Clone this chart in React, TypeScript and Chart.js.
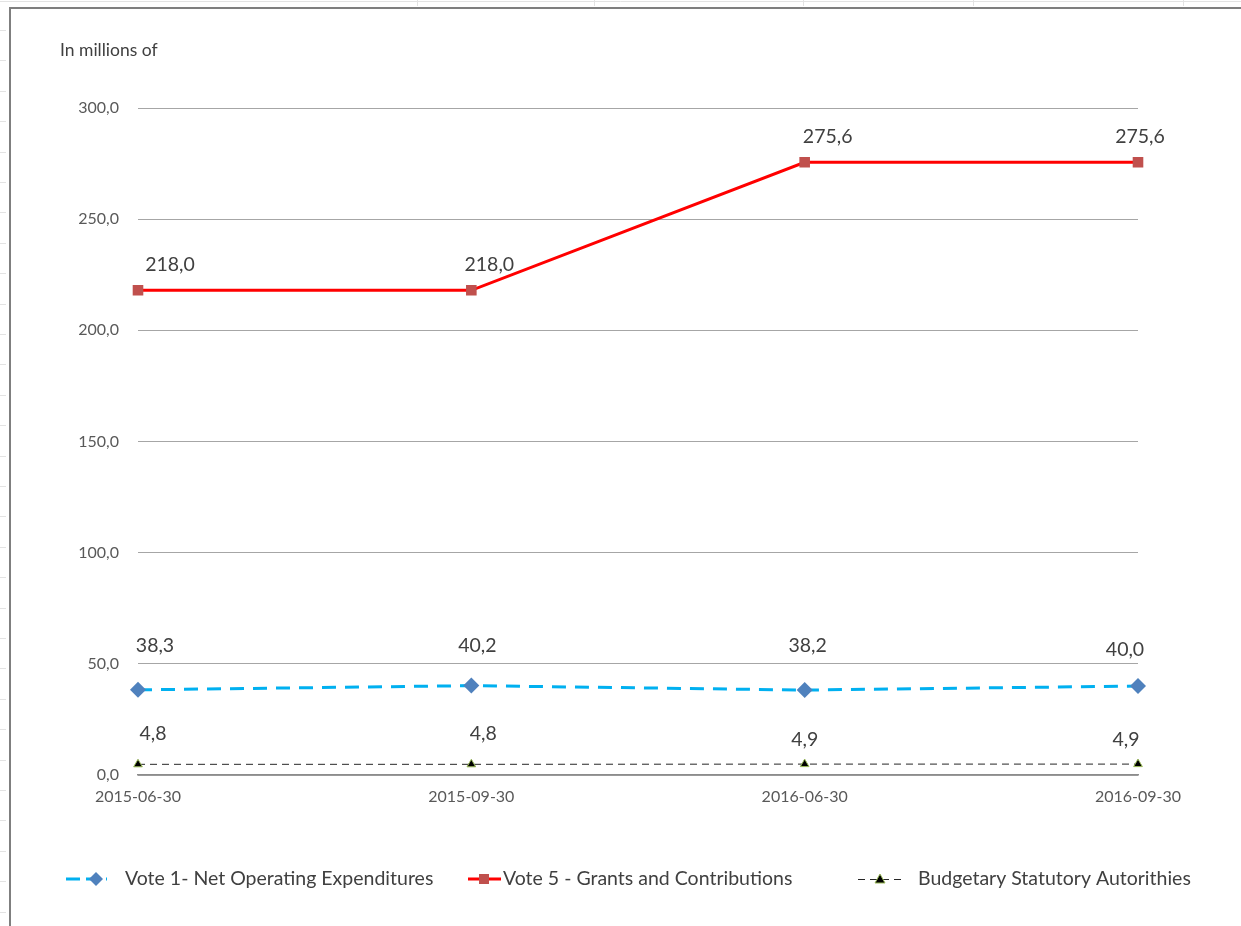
import React, { useEffect, useRef } from "react";
import { Chart, registerables } from "chart.js";

Chart.register(...registerables);

const categories = ["2015-06-30", "2015-09-30", "2016-06-30", "2016-09-30"];
const vote1Values = [38.3, 40.2, 38.2, 40.0];
const vote5Values = [218.0, 218.0, 275.6, 275.6];
const statutoryValues = [4.8, 4.8, 4.9, 4.9];
const seriesNames = [
  "Vote 1- Net Operating Expenditures",
  "Vote 5 - Grants and Contributions",
  "Budgetary Statutory Autorithies",
];
const yTitle = "In millions of";

// label nudges (dx, dy) per series per point — styling only
const labelNudges = [
  [[17, -44], [6, -40], [3, -44], [-13, -36]],
  [[32, -26], [18, -26], [23, -26], [2, -26]],
  [[15, -31], [12, -31], [0, -24], [-12, -24]],
];

const FONT = "Lato, 'Open Sans', sans-serif";
const fmt = (v: number) => v.toFixed(1).replace(".", ",");

const decorPlugin = {
  id: "decor",
  beforeDraw(chart: any) {
    const ctx = chart.ctx;
    ctx.save();
    ctx.fillStyle = "#ffffff";
    ctx.fillRect(0, 0, chart.width, chart.height);
    // spreadsheet hints
    ctx.strokeStyle = "#e3e3e3";
    ctx.lineWidth = 1;
    ctx.beginPath();
    ctx.moveTo(0, 1.5);
    ctx.lineTo(chart.width, 1.5);
    [417, 594, 803, 973, 1183].forEach((x) => {
      ctx.moveTo(x + 0.5, 0);
      ctx.lineTo(x + 0.5, 6);
    });
    for (let y = 30; y < chart.height; y += 30.4) {
      ctx.moveTo(0, Math.round(y) + 0.5);
      ctx.lineTo(6, Math.round(y) + 0.5);
    }
    ctx.stroke();
    // frame
    ctx.strokeStyle = "#7f7f7f";
    ctx.lineWidth = 2;
    ctx.beginPath();
    ctx.moveTo(10, chart.height);
    ctx.lineTo(10, 8);
    ctx.lineTo(chart.width, 8);
    ctx.stroke();
    // y title
    ctx.fillStyle = "#404040";
    ctx.font = `17.5px ${FONT}`;
    ctx.textBaseline = "middle";
    ctx.textAlign = "left";
    ctx.fillText(yTitle, 60, 50);
    ctx.restore();
  },
  afterDatasetsDraw(chart: any) {
    const ctx = chart.ctx;
    ctx.save();
    ctx.fillStyle = "#404040";
    ctx.font = `19.5px ${FONT}`;
    ctx.textAlign = "center";
    ctx.textBaseline = "middle";
    chart.data.datasets.forEach((ds: any, di: number) => {
      const meta = chart.getDatasetMeta(di);
      meta.data.forEach((pt: any, i: number) => {
        const [dx, dy] = labelNudges[di][i];
        ctx.fillText(fmt(ds.data[i]), pt.x + dx, pt.y + dy);
      });
    });
    ctx.restore();
  },
  afterDraw(chart: any) {
    const ctx = chart.ctx;
    const y = 879;
    ctx.save();
    ctx.font = `19.5px ${FONT}`;
    ctx.fillStyle = "#404040";
    ctx.textBaseline = "middle";
    ctx.textAlign = "left";
    const dss = chart.data.datasets;
    // item 1
    ctx.strokeStyle = dss[0].borderColor;
    ctx.lineWidth = 3;
    ctx.setLineDash([14, 6]);
    ctx.beginPath();
    ctx.moveTo(66, y);
    ctx.lineTo(107, y);
    ctx.stroke();
    ctx.setLineDash([]);
    ctx.fillStyle = dss[0].pointBackgroundColor;
    ctx.beginPath();
    ctx.moveTo(96, y - 7);
    ctx.lineTo(103, y);
    ctx.lineTo(96, y + 7);
    ctx.lineTo(89, y);
    ctx.closePath();
    ctx.fill();
    ctx.fillStyle = "#404040";
    ctx.fillText(seriesNames[0], 125, y);
    // item 2
    ctx.strokeStyle = dss[1].borderColor;
    ctx.lineWidth = 3;
    ctx.beginPath();
    ctx.moveTo(468, y);
    ctx.lineTo(501, y);
    ctx.stroke();
    ctx.fillStyle = dss[1].pointBackgroundColor;
    ctx.fillRect(479, y - 5, 10, 10);
    ctx.fillStyle = "#404040";
    ctx.fillText(seriesNames[1], 503, y);
    // item 3
    ctx.strokeStyle = "#262626";
    ctx.lineWidth = 1;
    ctx.setLineDash([7, 5]);
    ctx.beginPath();
    ctx.moveTo(858, y + 0.5);
    ctx.lineTo(906, y + 0.5);
    ctx.stroke();
    ctx.setLineDash([]);
    ctx.fillStyle = "#000000";
    ctx.strokeStyle = "#9BBB59";
    ctx.beginPath();
    ctx.moveTo(880, y - 5);
    ctx.lineTo(885, y + 4);
    ctx.lineTo(875, y + 4);
    ctx.closePath();
    ctx.fill();
    ctx.stroke();
    ctx.fillStyle = "#404040";
    ctx.fillText(seriesNames[2], 918, y);
    ctx.restore();
  },
};

export default function App() {
  const ref = useRef<HTMLCanvasElement>(null);
  useEffect(() => {
    if (!ref.current) return;
    const chart = new Chart(ref.current, {
      type: "line",
      data: {
        labels: categories,
        datasets: [
          {
            label: seriesNames[0],
            data: vote1Values,
            borderColor: "#00B0F0",
            borderWidth: 3,
            borderDash: [14, 9],
            pointStyle: "rectRot",
            pointRadius: 8,
            pointBackgroundColor: "#4F81BD",
            pointBorderColor: "#4F81BD",
            pointBorderWidth: 0,
            tension: 0,
          },
          {
            label: seriesNames[1],
            data: vote5Values,
            borderColor: "#FF0000",
            borderWidth: 3,
            pointStyle: "rect",
            pointRadius: 7.5,
            pointBackgroundColor: "#C0504D",
            pointBorderColor: "#C0504D",
            pointBorderWidth: 0,
            tension: 0,
          },
          {
            label: seriesNames[2],
            data: statutoryValues,
            borderColor: "#262626",
            borderWidth: 1,
            borderDash: [7, 5],
            pointStyle: "triangle",
            pointRadius: 5,
            pointBackgroundColor: "#000000",
            pointBorderColor: "#9BBB59",
            pointBorderWidth: 1,
            tension: 0,
          },
        ],
      },
      options: {
        responsive: false,
        animation: false,
        layout: { padding: { left: 0, top: 108, right: 103, bottom: 111 } },
        plugins: {
          legend: { display: false },
          tooltip: { enabled: false },
          title: { display: false },
        },
        scales: {
          x: {
            type: "category",
            offset: false,
            afterFit: (s: any) => {
              s.height = 40;
            },
            grid: { display: false, drawTicks: false },
            border: { display: true, color: "#8c8c8c", width: 1.5 },
            ticks: {
              color: "#595959",
              font: { family: FONT, size: 16 },
              padding: 12,
              maxRotation: 0,
              autoSkip: false,
            },
          },
          y: {
            min: 0,
            max: 300,
            afterFit: (s: any) => {
              s.width = 138;
            },
            grid: { color: "#a6a6a6", drawTicks: false, lineWidth: 1 },
            border: { display: false },
            ticks: {
              stepSize: 50,
              color: "#595959",
              font: { family: FONT, size: 16 },
              padding: 19,
              callback: (v: any) => fmt(Number(v)),
            },
          },
        },
      },
      plugins: [decorPlugin],
    });
    return () => chart.destroy();
  }, []);
  return (
    <div style={{ position: "absolute", left: 0, top: 0, width: 1241, height: 926 }}>
      <canvas ref={ref} width={1241} height={926} style={{ display: "block", width: 1241, height: 926 }} />
    </div>
  );
}
